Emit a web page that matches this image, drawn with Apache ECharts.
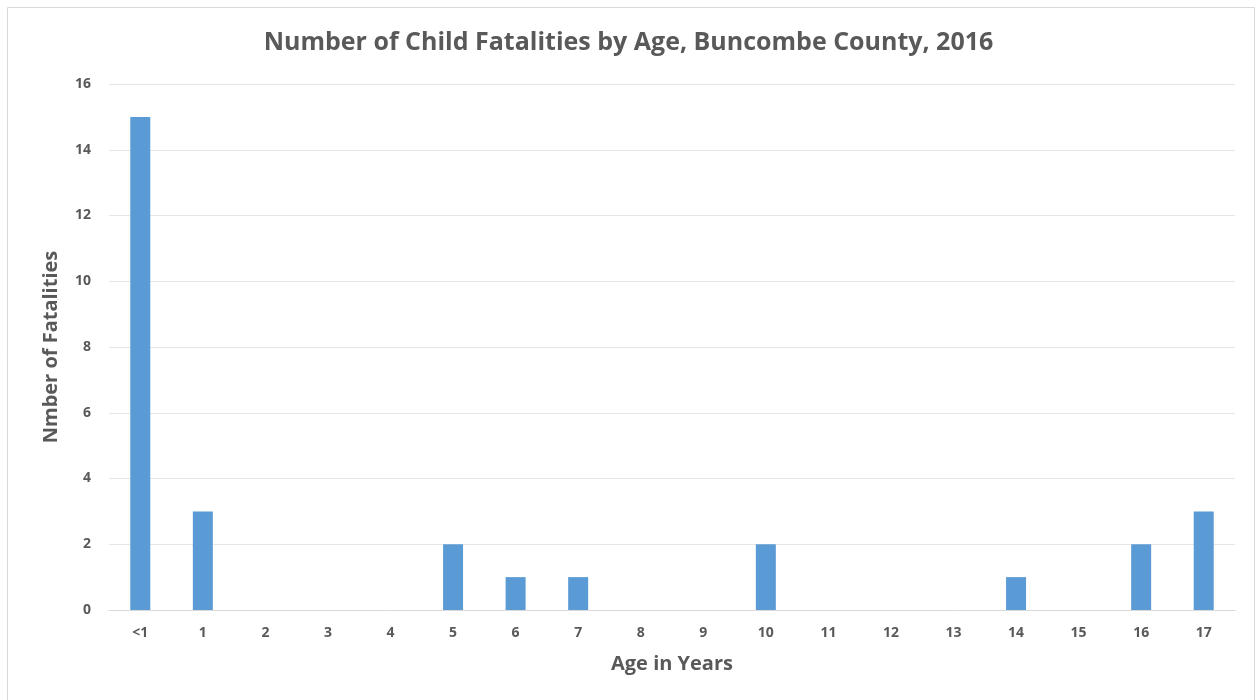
<!DOCTYPE html>
<html><head><meta charset="utf-8">
<script src="https://cdn.jsdelivr.net/npm/echarts@6/dist/echarts.min.js"></script>
<style>html,body{margin:0;padding:0;background:#fff}#c{width:1257px;height:700px}</style>
</head><body><div id="c"></div>
<script>
const titleText = 'Number of Child Fatalities by Age, Buncombe County, 2016';
const categories = ['<1','1','2','3','4','5','6','7','8','9','10','11','12','13','14','15','16','17'];
const fatalities = [15,3,0,0,0,2,1,1,0,0,2,0,0,0,1,0,2,3];
const yTicks = {min:0, max:16, interval:2};
const chart = echarts.init(document.getElementById('c'));
const font = '"Open Sans", Lato, sans-serif';
chart.setOption({
  animation:false,
  graphic:[{type:'rect',shape:{x:7.5,y:7.5,width:1247,height:700},style:{fill:'none',stroke:'#d9d9d9',lineWidth:1},silent:true}],
  title:{text:titleText,left:'center',top:25,textStyle:{fontFamily:font,fontSize:25,fontWeight:'bold',color:'#595959'}},
  grid:{left:109,right:22,top:84,bottom:90,containLabel:false},
  xAxis:{type:'category',data:categories,name:'Age in Years',nameLocation:'middle',nameGap:44,
    nameTextStyle:{fontFamily:font,fontSize:20,fontWeight:'bold',color:'#595959'},
    axisLine:{lineStyle:{color:'#d9d9d9'}},axisTick:{show:false},
    axisLabel:{fontFamily:font,fontSize:14,fontWeight:'bold',color:'#595959',margin:16}},
  yAxis:{type:'value',min:yTicks.min,max:yTicks.max,interval:yTicks.interval,name:'Nmber of Fatalities',nameLocation:'middle',nameGap:48,
    nameTextStyle:{fontFamily:font,fontSize:20,fontWeight:'bold',color:'#595959'},
    axisLine:{show:false},axisTick:{show:false},
    axisLabel:{fontFamily:font,fontSize:14,fontWeight:'bold',color:'#595959',margin:18},
    splitLine:{lineStyle:{color:'#e6e6e6'}}},
  series:[{type:'bar',data:fatalities,barWidth:20,itemStyle:{color:'#5b9bd5'}}]
});
</script></body></html>
